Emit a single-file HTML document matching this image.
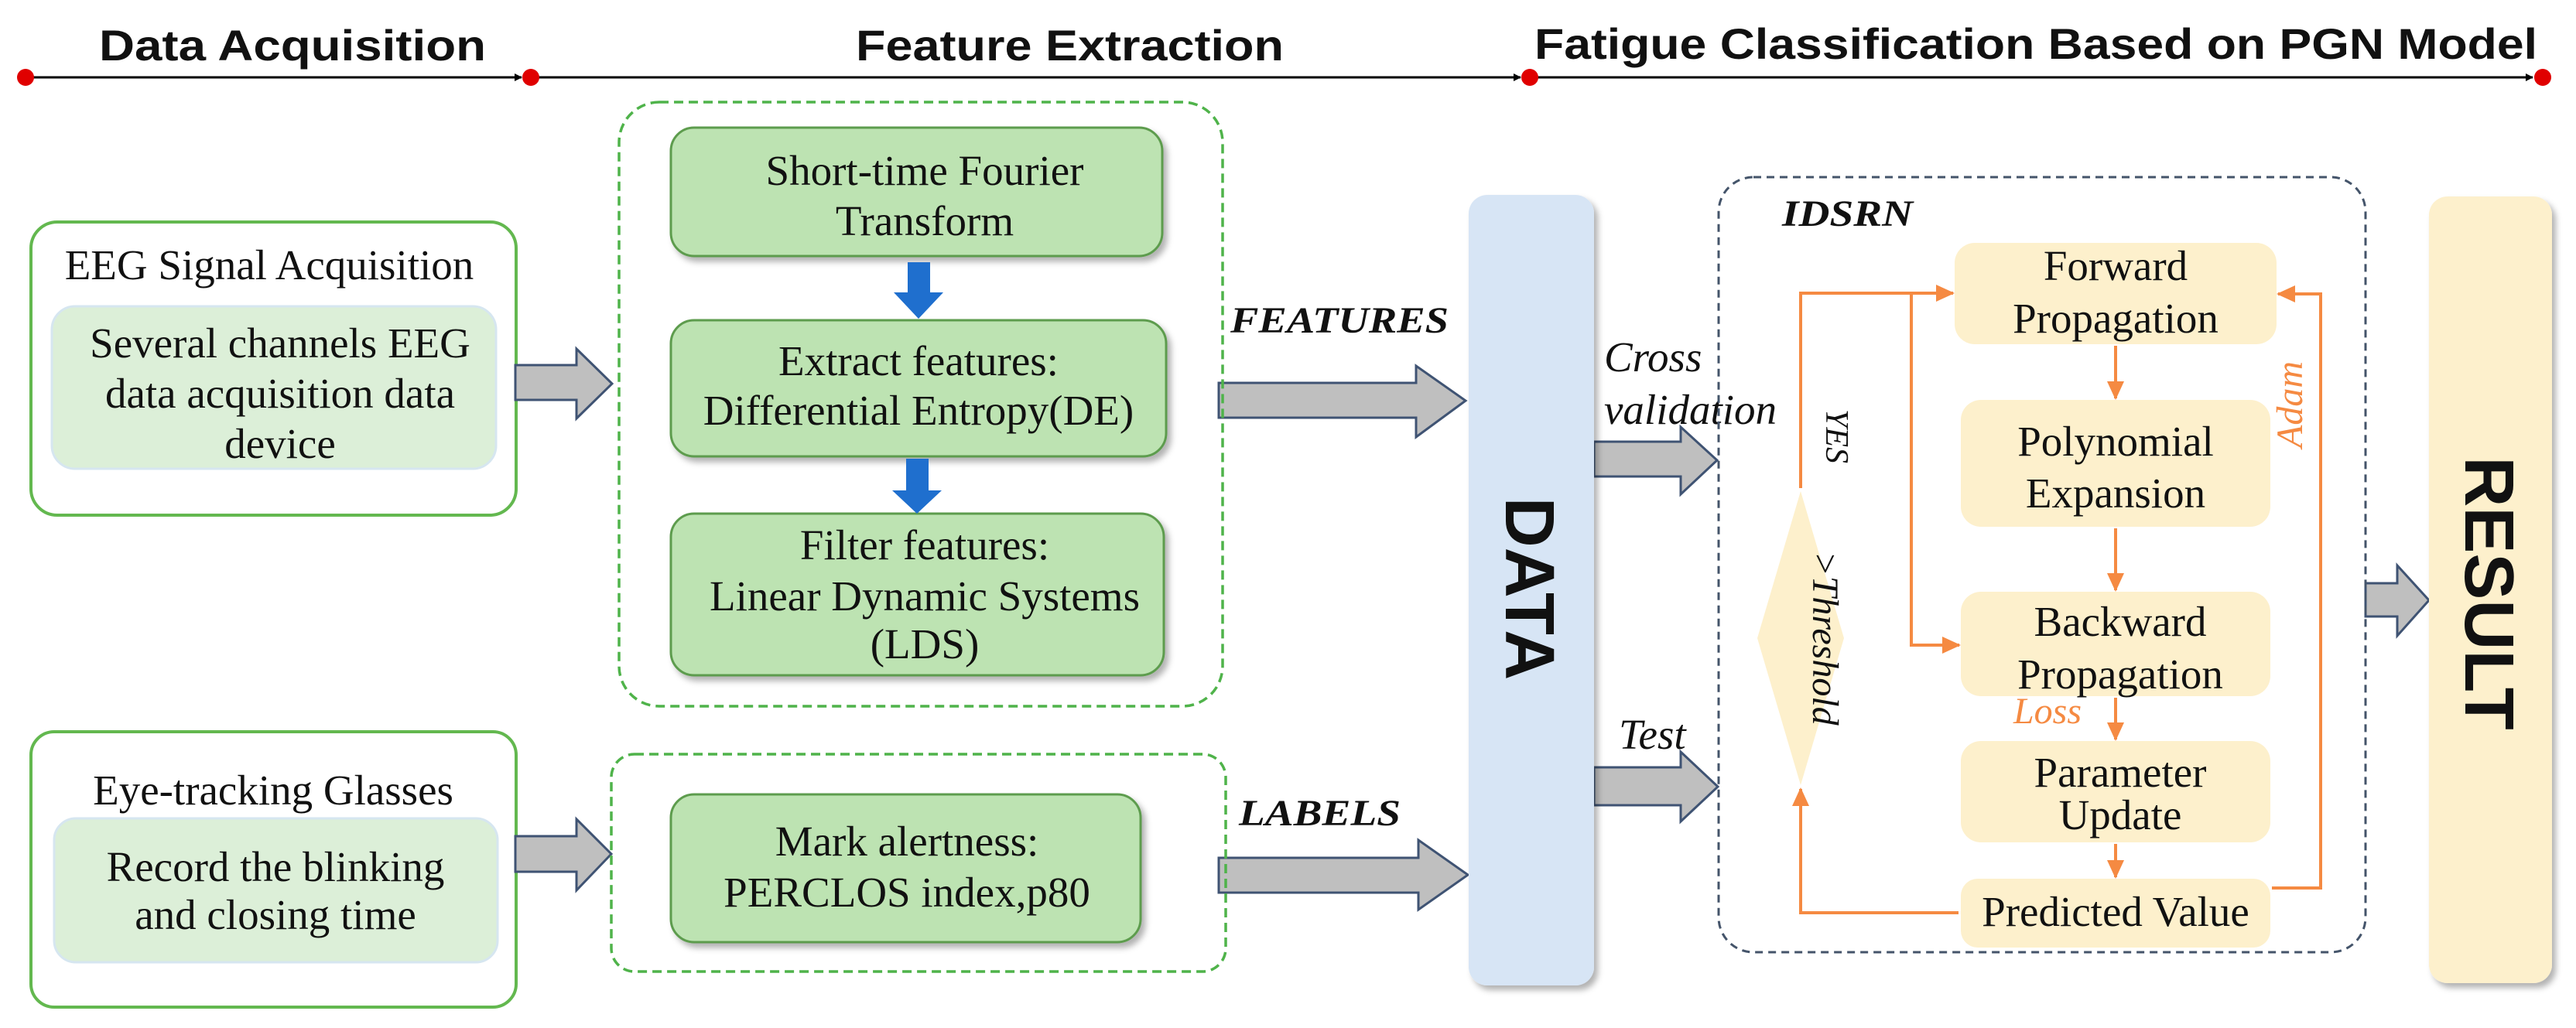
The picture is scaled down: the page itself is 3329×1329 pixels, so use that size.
<!DOCTYPE html>
<html><head><meta charset="utf-8"><style>html,body{margin:0;padding:0;background:#fff}svg{display:block}</style></head><body>
<svg width="3329" height="1329" viewBox="0 0 3329 1329" xmlns="http://www.w3.org/2000/svg">
<defs>
<filter id="sh" x="-10%" y="-10%" width="130%" height="130%"><feDropShadow dx="5" dy="6" stdDeviation="4" flood-color="#000" flood-opacity="0.3"/></filter>
<marker id="ka" markerWidth="10" markerHeight="10" refX="9" refY="5" orient="auto" markerUnits="userSpaceOnUse"><path d="M0,0 L10,5 L0,10 z" fill="#000"/></marker>
<marker id="oa" markerWidth="24" markerHeight="22" refX="22" refY="11" orient="auto" markerUnits="userSpaceOnUse"><path d="M0,0 L24,11 L0,22 z" fill="#f58a42"/></marker>
</defs>
<g font-family="Liberation Sans, sans-serif" font-weight="bold" font-size="56" fill="#111">
<text x="128" y="78" textLength="500" lengthAdjust="spacingAndGlyphs">Data Acquisition</text>
<text x="1106" y="78" textLength="553" lengthAdjust="spacingAndGlyphs">Feature Extraction</text>
<text x="1983" y="76" textLength="1296" lengthAdjust="spacingAndGlyphs">Fatigue Classification Based on PGN Model</text>
</g>
<g stroke="#000" stroke-width="3">
<line x1="33" y1="100" x2="674" y2="100" marker-end="url(#ka)"/>
<line x1="686" y1="100" x2="1965" y2="100" marker-end="url(#ka)"/>
<line x1="1977" y1="100" x2="3273" y2="100" marker-end="url(#ka)"/>
</g>
<g fill="#e00000"><circle cx="33" cy="100" r="11"/><circle cx="686" cy="100" r="11"/><circle cx="1977" cy="100" r="11"/><circle cx="3286" cy="100" r="11"/></g>

<!-- left boxes -->
<rect x="40" y="287" width="627" height="379" rx="34" fill="#fff" stroke="#63b84f" stroke-width="4"/>
<rect x="67" y="396" width="574" height="210" rx="30" fill="#dcefd8" stroke="#d6e6f0" stroke-width="3"/>
<rect x="40" y="946" width="627" height="356" rx="30" fill="#fff" stroke="#63b84f" stroke-width="4"/>
<rect x="70" y="1058" width="573" height="186" rx="28" fill="#dcefd8" stroke="#d6e6f0" stroke-width="3"/>
<g font-family="Liberation Serif, serif" font-size="55" fill="#111" text-anchor="middle">
<text x="348" y="361">EEG Signal Acquisition</text>
<text x="362" y="462">Several channels EEG</text>
<text x="362" y="527">data acquisition data</text>
<text x="362" y="592">device</text>
<text x="353" y="1040">Eye-tracking Glasses</text>
<text x="356" y="1139">Record the blinking</text>
<text x="356" y="1201">and closing time</text>
</g>

<!-- gray arrows -->
<g fill="#bfbfbf" stroke="#3f5373" stroke-width="3">
<path d="M666,472 L745,472 L745,451 L791,496 L745,541 L745,517 L666,517 z"/>
<path d="M666,1081 L745,1081 L745,1059 L790,1104 L745,1151 L745,1127 L666,1127 z"/>
<path d="M1575,495 L1830,495 L1830,473 L1894,518 L1830,565 L1830,540 L1575,540 z"/>
<path d="M1575,1109 L1833,1109 L1833,1086 L1897,1131 L1833,1176 L1833,1154 L1575,1154 z"/>
<path d="M2060,571 L2172,571 L2172,552 L2219,595 L2172,639 L2172,616 L2060,616 z"/>
<path d="M2060,992 L2172,992 L2172,972 L2220,1017 L2172,1062 L2172,1041 L2060,1041 z"/>
<path d="M3057,754 L3098,754 L3098,731 L3139,776 L3098,822 L3098,797 L3057,797 z"/>
</g>

<!-- feature dashed boxes -->
<rect x="800" y="132" width="780" height="781" rx="52" fill="none" stroke="#4fb34a" stroke-width="3.5" stroke-dasharray="12,7"/>
<rect x="790" y="975" width="794" height="281" rx="30" fill="none" stroke="#4fb34a" stroke-width="3.5" stroke-dasharray="12,7"/>
<g fill="#bde3b2" stroke="#5d9c4e" stroke-width="3" filter="url(#sh)">
<rect x="867" y="165" width="635" height="166" rx="30"/>
<rect x="867" y="414" width="640" height="176" rx="30"/>
<rect x="867" y="664" width="637" height="209" rx="30"/>
<rect x="867" y="1027" width="607" height="191" rx="30"/>
</g>
<g fill="#1f6fce">
<path d="M1173,339 L1202,339 L1202,378 L1219,378 L1187,412 L1155,378 L1173,378 z"/>
<path d="M1171,593 L1200,593 L1200,634 L1217,634 L1185,664 L1153,634 L1171,634 z"/>
</g>
<g font-family="Liberation Serif, serif" font-size="55" fill="#111" text-anchor="middle">
<text x="1195" y="239">Short-time Fourier</text>
<text x="1195" y="304">Transform</text>
<text x="1187" y="485">Extract features:</text>
<text x="1187" y="549">Differential Entropy(DE)</text>
<text x="1195" y="723">Filter features:</text>
<text x="1195" y="789">Linear Dynamic Systems</text>
<text x="1195" y="851">(LDS)</text>
<text x="1172" y="1106">Mark alertness:</text>
<text x="1172" y="1172">PERCLOS index,p80</text>
</g>
<g font-family="Liberation Serif, serif" font-size="48" font-weight="bold" font-style="italic" fill="#111">
<text x="1590" y="430" textLength="282" lengthAdjust="spacingAndGlyphs">FEATURES</text>
<text x="1601" y="1067" textLength="209" lengthAdjust="spacingAndGlyphs">LABELS</text>
<text x="2303" y="292" textLength="169" lengthAdjust="spacingAndGlyphs">IDSRN</text>
</g>

<!-- DATA & RESULT -->
<rect x="1898" y="252" width="162" height="1022" rx="24" fill="#d7e5f5" filter="url(#sh)"/>
<text transform="translate(1946,761) rotate(90)" font-family="Liberation Sans, sans-serif" font-weight="bold" font-size="90" text-anchor="middle" fill="#111">DATA</text>
<rect x="3139" y="254" width="159" height="1017" rx="24" fill="#fdf0cc" filter="url(#sh)"/>
<text transform="translate(3186,767) rotate(90)" font-family="Liberation Sans, sans-serif" font-weight="bold" font-size="90" text-anchor="middle" fill="#111">RESULT</text>

<g font-family="Liberation Serif, serif" font-size="55" font-style="italic" fill="#111">
<text x="2073" y="480">Cross</text>
<text x="2073" y="548">validation</text>
<text x="2092" y="968">Test</text>
</g>

<!-- IDSRN box -->
<rect x="2221" y="229" width="836" height="1002" rx="45" fill="none" stroke="#44546a" stroke-width="3" stroke-dasharray="10,7"/>
<g fill="#fdf0cc">
<rect x="2526" y="314" width="416" height="131" rx="26"/>
<rect x="2534" y="517" width="400" height="164" rx="26"/>
<rect x="2534" y="765" width="400" height="135" rx="26"/>
<rect x="2534" y="958" width="400" height="131" rx="26"/>
<rect x="2534" y="1136" width="400" height="89" rx="22"/>
<path d="M2327,635 L2383,825 L2327,1015 L2271,825 z"/>
</g>
<g font-family="Liberation Serif, serif" font-size="55" fill="#111" text-anchor="middle">
<text x="2734" y="362">Forward</text>
<text x="2734" y="430">Propagation</text>
<text x="2734" y="589">Polynomial</text>
<text x="2734" y="656">Expansion</text>
<text x="2740" y="822">Backward</text>
<text x="2740" y="890">Propagation</text>
<text x="2740" y="1017">Parameter</text>
<text x="2740" y="1072">Update</text>
<text x="2734" y="1197">Predicted Value</text>
</g>
<g font-family="Liberation Serif, serif" font-size="48" font-style="italic" fill="#111" text-anchor="middle">
<text transform="translate(2343,825) rotate(90)">&gt;Threshold</text>
<text transform="translate(2360,564) rotate(90)" font-size="42">YES</text>
</g>
<g font-family="Liberation Serif, serif" font-size="48" font-style="italic" fill="#f58a42" text-anchor="middle">
<text transform="translate(2975,523) rotate(-90)">Adam</text>
<text x="2646" y="935">Loss</text>
</g>
<g stroke="#f58a42" stroke-width="4" fill="none">
<polyline points="2327,631 2327,379 2524,379" marker-end="url(#oa)"/>
<polyline points="2470,379 2470,834 2532,834" marker-end="url(#oa)"/>
<polyline points="2531,1180 2327,1180 2327,1020" marker-end="url(#oa)"/>
<polyline points="2936,1148 2999,1148 2999,380 2944,380" marker-end="url(#oa)"/>
<line x1="2734" y1="447" x2="2734" y2="515" marker-end="url(#oa)"/>
<line x1="2734" y1="683" x2="2734" y2="763" marker-end="url(#oa)"/>
<line x1="2734" y1="902" x2="2734" y2="956" marker-end="url(#oa)"/>
<line x1="2734" y1="1091" x2="2734" y2="1134" marker-end="url(#oa)"/>
</g>
</svg>
</body></html>
